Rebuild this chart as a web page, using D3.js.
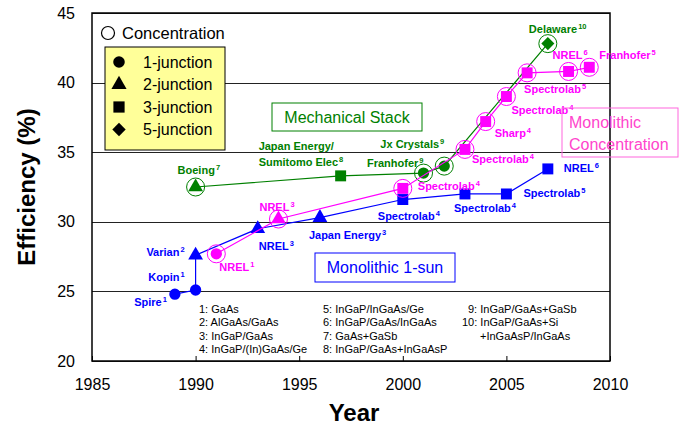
<!DOCTYPE html>
<html>
<head>
<meta charset="utf-8">
<script src="https://cdn.jsdelivr.net/npm/d3@7"></script>
<style>
  body { margin: 0; background: #fff; }
  svg { font-family: "Liberation Sans", Arial, sans-serif; }
  .pt-label { font-weight: bold; font-size: 11px; }
  .note { font-size: 11px; }
</style>
</head>
<body>
<div id="chart-div"></div>
<script>
// 1-sun monolithic cells (blue)
const sunYears = [1989, 1990, 1990, 1993, 1996, 2000, 2003, 2005, 2007];
const sunEff = [24.8, 25.1, 27.6, 29.5, 30.3, 31.6, 32.0, 32.0, 33.8];
const sunShape = ["circle", "circle", "triangle", "triangle", "triangle", "square", "square", "square", "square"];
const sunConc = [0, 0, 0, 0, 0, 0, 0, 0, 0];
const sunLabel = ["Spire", "Kopin", "Varian", "NREL", "Japan Energy", "Spectrolab", "Spectrolab", "Spectrolab", "NREL"];
const sunNote = ["1", "1", "2", "3", "3", "4", "4", "5", "6"];

// monolithic concentrator cells (magenta)
const concYears = [1991, 1994, 2000, 2003, 2004, 2005, 2006, 2008, 2009];
const concEff = [27.7, 30.2, 32.4, 35.2, 37.2, 39.0, 40.7, 40.8, 41.1];
const concShape = ["circle", "triangle", "square", "square", "square", "square", "square", "square", "square"];
const concConc = [1, 1, 1, 1, 1, 1, 1, 1, 1];
const concLabel = ["NREL", "NREL", "Spectrolab", "Spectrolab", "Sharp", "Spectrolab", "Spectrolab", "NREL", "Franhofer"];
const concNote = ["1", "3", "4", "4", "4", "4", "5", "6", "5"];

// mechanical stack (green)
const mechYears = [1990, 1997, 2001, 2002, 2007];
const mechEff = [32.5, 33.3, 33.5, 34.0, 42.8];
const mechShape = ["triangle", "square", "circle", "circle", "diamond"];
const mechConc = [1, 0, 1, 1, 1];
const mechLabel = ["Boeing", "Japan Energy/|Sumitomo Elec", "Franhofer", "Jx Crystals", "Delaware"];
const mechNote = ["7", "8", "9", "9", "10"];

const xTicks = [1985, 1990, 1995, 2000, 2005, 2010];
const yTicks = [20, 25, 30, 35, 40, 45];

const legendShapes = ["circle", "triangle", "square", "diamond"];
const legendNames = ["1-junction", "2-junction", "3-junction", "5-junction"];

const notesCol1 = ["1: GaAs", "2: AlGaAs/GaAs", "3: InGaP/GaAs", "4: InGaP/(In)GaAs/Ge"];
const notesCol2 = ["5: InGaP/InGaAs/Ge", "6: InGaP/GaAs/InGaAs", "7: GaAs+GaSb", "8: InGaP/GaAs+InGaAsP"];
const notesCol3 = ["9: InGaP/GaAs+GaSb", "10: InGaP/GaAs+Si", "+InGaAsP/InGaAs"];

// label placement for each point: [dx, dy, anchor]
const sunPos = [[-8, 8, "end"], [-11, -13, "end"], [-11, -3, "end"], [1, 17, "start"], [-11, 17, "start"],
                [-25, 16, "start"], [-11, 14, "start"], [17, -1, "start"], [16, -1, "start"]];
const concPos = [[3, 13, "start"], [-19, -12, "start"], [15, -2, "start"], [7, 10, "start"], [9, 11, "start"],
                 [5, 13, "start"], [-3, 16, "start"], [-16, -16, "start"], [10, -12, "start"]];
const mechPos = [[-18, -17, "start"], [-82, -30, "start"], [0, -10, "end"], [0, -22, "end"], [-19, -15, "start"]];
const notesCol3X = [468, 462, 480];

const svgDims = { width: 689, height: 430 };
const margin = { top: 13, right: 79, bottom: 69, left: 92 };

const svg = d3.select("#chart-div")
    .append("svg")
    .attr("width", svgDims.width)
    .attr("height", svgDims.height);

const width = svgDims.width - margin.left - margin.right;
const height = svgDims.height - margin.top - margin.bottom;
const g = svg.append("g").attr("transform", "translate(" + margin.left + "," + margin.top + ")");

const xScale = d3.scaleLinear().domain([1985, 2010]).range([0, width]);
const yScale = d3.scaleLinear().domain([20, 45]).range([height, 0]);

// gridlines + y labels
const yGroup = g.append("g")
    .call(d3.axisLeft(yScale).tickValues(yTicks).tickSizeInner(-width).tickSizeOuter(0).tickPadding(17));
yGroup.select(".domain").remove();
yGroup.selectAll("line").attr("stroke", "#222").attr("stroke-width", 1).attr("shape-rendering", "crispEdges");
yGroup.selectAll("text").attr("font-size", 16).attr("fill", "#000")
    .attr("font-family", "Liberation Sans, Arial, sans-serif");

// x axis with inward ticks
const xGroup = g.append("g")
    .attr("transform", "translate(0," + height + ")")
    .call(d3.axisBottom(xScale).tickValues(xTicks).tickFormat(d3.format("d"))
        .tickSizeInner(-5).tickSizeOuter(0).tickPadding(18));
xGroup.select(".domain").remove();
xGroup.selectAll("line").attr("stroke", "#000");
xGroup.selectAll("text").attr("font-size", 16).attr("fill", "#000")
    .attr("font-family", "Liberation Sans, Arial, sans-serif");

// frame
g.append("rect")
    .attr("width", width).attr("height", height)
    .attr("fill", "none").attr("stroke", "#000").attr("stroke-width", 1.5);

// axis titles
svg.append("text")
    .attr("transform", "translate(35," + (margin.top + height / 2) + ") rotate(-90)")
    .attr("text-anchor", "middle")
    .attr("font-size", 24).attr("font-weight", "bold")
    .text("Efficiency (%)");
svg.append("text")
    .attr("x", 354).attr("y", 421)
    .attr("text-anchor", "middle")
    .attr("font-size", 24).attr("font-weight", "bold")
    .text("Year");

function symbolFor(shape, size) {
    if (shape === "diamond") {
        // square turned 45 degrees
        const r = Math.sqrt(size) / 2 * Math.SQRT2;
        return "M0," + (-r) + "L" + r + ",0L0," + r + "L" + (-r) + ",0Z";
    }
    const types = { circle: d3.symbolCircle, triangle: d3.symbolTriangle, square: d3.symbolSquare };
    return d3.symbol().type(types[shape]).size(size)();
}
const symSize = { circle: 100, triangle: 95, square: 120, diamond: 85 };

// legend
svg.append("circle").attr("cx", 108).attr("cy", 33).attr("r", 6.5)
    .attr("fill", "#fff").attr("stroke", "#000").attr("stroke-width", 1.2);
svg.append("text").attr("x", 122).attr("y", 39).attr("font-size", 16.5).text("Concentration");

svg.append("rect").attr("x", 105).attr("y", 47).attr("width", 120).attr("height", 103)
    .attr("fill", "#ffff99").attr("stroke", "#000").attr("stroke-width", 1);
legendShapes.forEach((s, i) => {
    const cy = 62 + i * 22.5;
    svg.append("path").attr("d", symbolFor(s, symSize[s] * 1.05))
        .attr("transform", "translate(119," + cy + ")").attr("fill", "#000");
    svg.append("text").attr("x", 143).attr("y", cy + 5.5).attr("font-size", 16).text(legendNames[i]);
});

// boxed category labels
function boxLabel(x, y, w, h, color, lines, textColor, anchor) {
    svg.append("rect").attr("x", x).attr("y", y).attr("width", w).attr("height", h)
        .attr("fill", "none").attr("stroke", color).attr("stroke-width", 1);
    lines.forEach((t, i) => {
        svg.append("text")
            .attr("x", anchor === "middle" ? x + w / 2 : x + 7)
            .attr("y", y + 20 + i * 22)
            .attr("text-anchor", anchor)
            .attr("font-size", 16).attr("fill", textColor).text(t);
    });
}
boxLabel(272, 103, 150, 28, "#008000", ["Mechanical Stack"], "#008000", "middle");
boxLabel(562, 108, 116, 49, "#ff66dd", ["Monolithic", "Concentration"], "#ff44cc", "start");
boxLabel(315, 253, 140, 29, "#0000ff", ["Monolithic 1-sun"], "#0000ff", "middle");

// series
function drawSeries(years, eff, shapes, conc, labels, notes, pos, color) {
    const pts = years.map((yr, i) => ({ yr: yr, v: eff[i], shape: shapes[i], conc: conc[i], label: labels[i], note: notes[i], pos: pos[i] }));
    const line = d3.line().x(d => xScale(d.yr)).y(d => yScale(d.v));
    g.append("path").datum(pts).attr("d", line)
        .attr("fill", "none").attr("stroke", color).attr("stroke-width", 1.2);

    g.selectAll(null).data(pts.filter(d => d.conc)).enter().append("circle")
        .attr("cx", d => xScale(d.yr)).attr("cy", d => yScale(d.v)).attr("r", 9)
        .attr("fill", "none").attr("stroke", color).attr("stroke-width", 1);

    g.selectAll(null).data(pts).enter().append("path")
        .attr("d", d => symbolFor(d.shape, symSize[d.shape]))
        .attr("transform", d => "translate(" + xScale(d.yr) + "," + yScale(d.v) + ")")
        .attr("fill", color);

    pts.forEach(d => {
        const parts = d.label.split("|");
        parts.forEach((p, j) => {
            const t = g.append("text").attr("class", "pt-label")
                .attr("x", xScale(d.yr) + d.pos[0])
                .attr("y", yScale(d.v) + d.pos[1] + 4 + j * 16)
                .attr("text-anchor", d.pos[2])
                .attr("fill", color);
            t.append("tspan").text(p);
            if (j === parts.length - 1) {
                t.append("tspan").attr("font-size", 7.5).attr("dy", -4).attr("dx", 1).text(d.note);
            }
        });
    });
}

drawSeries(mechYears, mechEff, mechShape, mechConc, mechLabel, mechNote, mechPos, "#008000");
drawSeries(sunYears, sunEff, sunShape, sunConc, sunLabel, sunNote, sunPos, "#0000ff");
drawSeries(concYears, concEff, concShape, concConc, concLabel, concNote, concPos, "#ff00ff");

// footnotes
[[notesCol1, [199, 199, 199, 199]], [notesCol2, [323, 323, 323, 323]], [notesCol3, notesCol3X]].forEach(([col, xs]) => {
    col.forEach((t, i) => {
        svg.append("text").attr("class", "note").attr("x", xs[i]).attr("y", 313 + i * 13.4).text(t);
    });
});
</script>
</body>
</html>
